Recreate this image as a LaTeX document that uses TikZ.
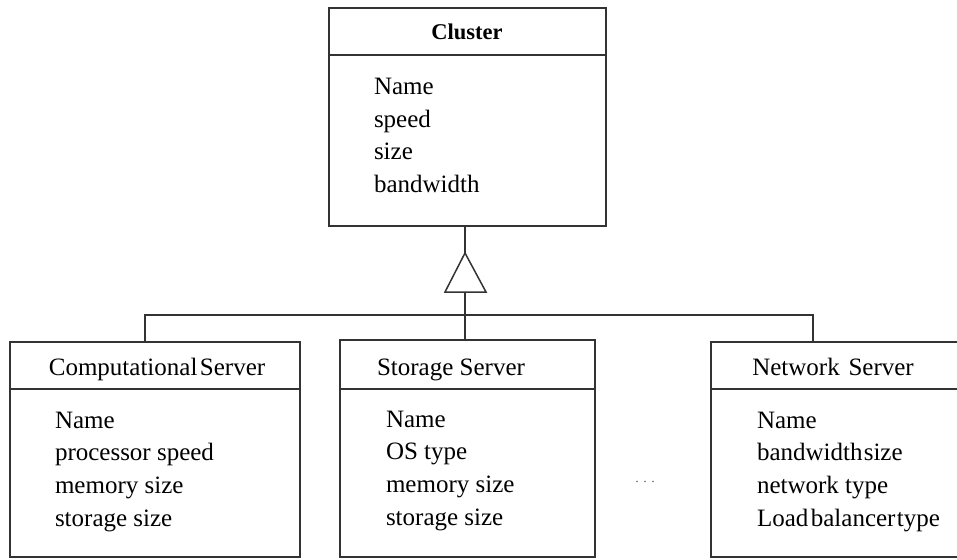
\documentclass[tikz,border=0pt]{standalone}
\usepackage{fontspec}
\setmainfont{Liberation Serif}
\definecolor{edge}{HTML}{333333}
\begin{document}
\begin{tikzpicture}[x=1pt,y=-1pt,
  every node/.style={inner sep=0pt, outer sep=0pt},
  classbox/.style={draw=edge, line width=1.6pt, rectangle, anchor=north west},
  ttl/.style={font=\fontsize{25}{28}\selectfont, anchor=base},
  ttlbold/.style={font=\bfseries\fontsize{22.5}{26}\selectfont, anchor=base},
  attr/.style={font=\fontsize{25}{28}\selectfont, anchor=base west},
  link/.style={draw=edge, line width=1.5pt}]
\useasboundingbox (0,0) rectangle (957,559);
\fill[white] (0,0) rectangle (957,559);

% Cluster class
\node[classbox, minimum width=277pt, minimum height=218pt] (cluster) at (329,8) {};
\draw[link] (329,55) -- (606,55);
\node[ttlbold] (clusterT) at (467,40) {Cluster};
\foreach \t [count=\i] in {Name, speed, size, bandwidth}
  \node[attr] (clusterA\i) at (374,{95+32.4*(\i-1)}) {\t};

% Computational server class
\node[classbox, minimum width=290pt, minimum height=215pt] (comp) at (10,342) {};
\draw[link] (10,389) -- (300,389);
\node[ttl] (compT) at (157,375) {Computational\hspace{0.1em}Server};
\foreach \t [count=\i] in {Name, processor speed, memory size, storage size}
  \node[attr] (compA\i) at (55,{428+32.7*(\i-1)}) {\t};

% Storage server class
\node[classbox, minimum width=255pt, minimum height=217pt] (stor) at (340,340) {};
\draw[link] (340,389) -- (595,389);
\node[ttl] (storT) at (451,375) {Storage Server};
\foreach \t [count=\i] in {Name, OS type, memory size, storage size}
  \node[attr] (storA\i) at (386,{427+32.7*(\i-1)}) {\t};

% Network server class (runs past the right edge)
\node[classbox, minimum width=259pt, minimum height=215pt] (net) at (711,342) {};
\draw[link] (711,389) -- (970,389);
\node[ttl] (netT) at (833,375) {Network\hspace{0.35em}Server};
\foreach \t [count=\i] in {Name, bandwidth\hspace{0.05em}size, network type, Load\hspace{0.1em}balancer\hspace{0.05em}type}
  \node[attr] (netA\i) at (757,{428+32.7*(\i-1)}) {\t};

% further classes omitted
\node[font=\fontsize{12}{14}\selectfont, anchor=base, text=edge] (dots) at (645,482) {.\hspace{5pt}.\hspace{5pt}.};

% generalization: hollow triangle and tree of links
\coordinate (tip) at (465,253);
\coordinate (bl) at (445,292);
\coordinate (br) at (486,292);
\coordinate (bm) at (465,292);
\draw[link] (tip) -- (bl) -- (br) -- cycle;
\draw[link] (cluster.south -| tip) -- (tip);
\draw[link] (bm) -- (bm |- stor.north);
\coordinate (barL) at (145,315);
\coordinate (barR) at (813,315);
\draw[link] (comp.north -| barL) -- (barL) -- (barR) -- (net.north -| barR);
\end{tikzpicture}
\end{document}
